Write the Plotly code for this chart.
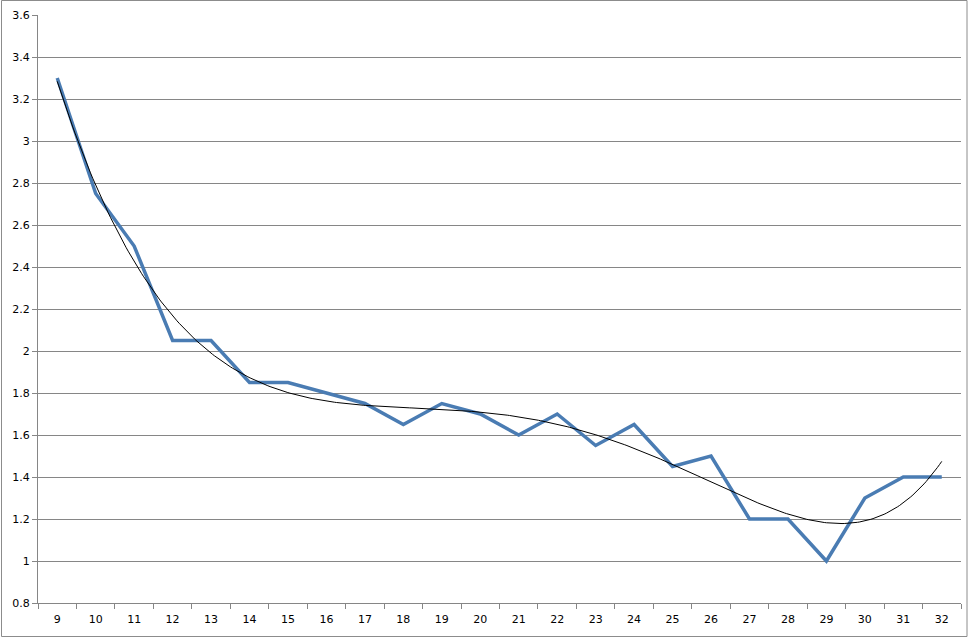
import numpy as np
import plotly.graph_objects as go

categories = list(range(9, 33))
values = [3.3, 2.75, 2.5, 2.05, 2.05, 1.85, 1.85, 1.8, 1.75, 1.65, 1.75, 1.7,
          1.6, 1.7, 1.55, 1.65, 1.45, 1.5, 1.2, 1.2, 1.0, 1.3, 1.4, 1.4]
y_ticks = [0.8, 1.0, 1.2, 1.4, 1.6, 1.8, 2.0, 2.2, 2.4, 2.6, 2.8, 3.0, 3.2, 3.4, 3.6]
y_labels = ["0.8", "1", "1.2", "1.4", "1.6", "1.8", "2", "2.2", "2.4", "2.6",
            "2.8", "3", "3.2", "3.4", "3.6"]

# Polynomial (order 6) trendline fitted to the series, as Excel does
idx = np.arange(1, len(categories) + 1)
coef = np.polyfit(idx, values, 6)
fine = np.linspace(1, len(categories), 400)
trend_x = fine + categories[0] - 1
trend_y = np.polyval(coef, fine)

W, H = 977, 638
ml, mr, mt, mb = 38, 16, 15, 35
pw, ph = W - ml - mr, H - mt - mb

fig = go.Figure()
fig.add_trace(go.Scatter(x=categories, y=values, mode="lines",
                         line=dict(color="#4a7cb3", width=3.5), showlegend=False))
fig.add_trace(go.Scatter(x=trend_x, y=trend_y, mode="lines",
                         line=dict(color="black", width=1), showlegend=False))

def px_x(p):
    return (p - ml) / pw

def px_y(p):
    return (H - mb - p) / ph

fig.add_shape(type="rect", xref="paper", yref="paper",
              x0=px_x(1.5), x1=px_x(967), y0=px_y(636.5), y1=px_y(0.5),
              line=dict(color="#8c8c8c", width=1), fillcolor="rgba(0,0,0,0)")

fig.update_layout(
    width=W, height=H,
    margin=dict(l=ml, r=mr, t=mt, b=mb, autoexpand=False),
    paper_bgcolor="white", plot_bgcolor="white",
    font=dict(family="DejaVu Sans, Verdana, sans-serif", size=11, color="black"),
    xaxis=dict(range=[categories[0] - 0.5, categories[-1] + 0.5],
               tickvals=categories, ticktext=[str(c) for c in categories],
               showgrid=False, zeroline=False, ticks="", automargin=False,
               showline=True, linecolor="#868686", linewidth=1,
               minor=dict(tick0=8.5, dtick=1, ticks="outside", ticklen=5,
                          tickcolor="#868686", showgrid=False),
               ticklabelstandoff=6),
    yaxis=dict(range=[0.8, 3.6], tickvals=y_ticks, ticktext=y_labels,
               showgrid=True, gridcolor="#868686", gridwidth=1, zeroline=False,
               showline=True, linecolor="#868686", linewidth=1, automargin=False,
               ticks="outside", ticklen=5, tickcolor="#868686"),
)

fig.write_html("out.html", config={"displayModeBar": False},
               post_script="document.body.style.margin='0';document.body.style.overflow='hidden';")
